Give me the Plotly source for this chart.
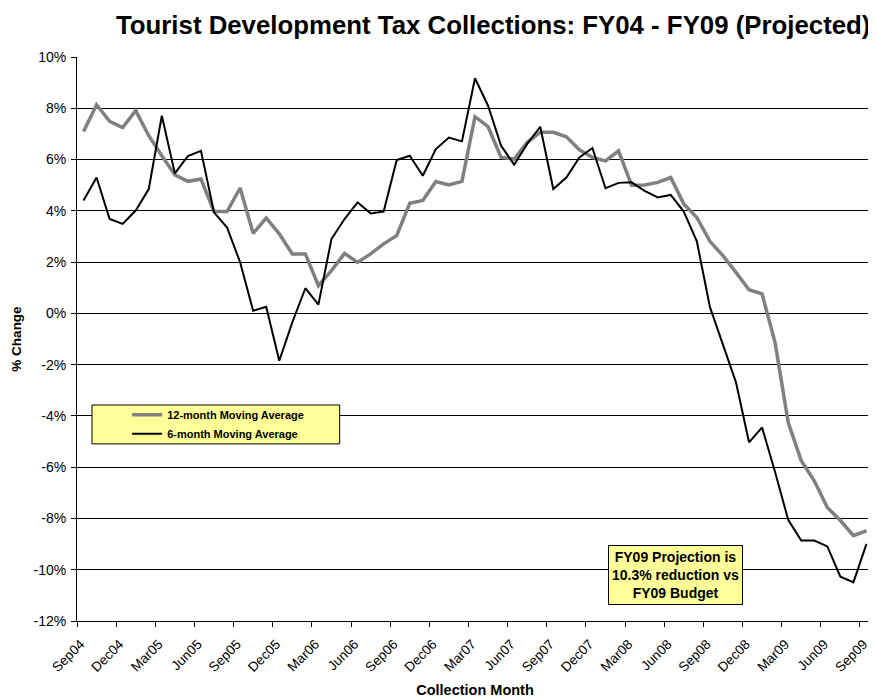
import plotly.graph_objects as go

# ---- data ----
month_index = list(range(61))  # Sep04 ... Sep09, monthly
tick_labels = ["Sep04", "Dec04", "Mar05", "Jun05", "Sep05", "Dec05", "Mar06", "Jun06",
               "Sep06", "Dec06", "Mar07", "Jun07", "Sep07", "Dec07", "Mar08", "Jun08",
               "Sep08", "Dec08", "Mar09", "Jun09", "Sep09"]
tick_positions = list(range(0, 61, 3))

ma12 = [7.09, 8.14, 7.49, 7.25, 7.91, 6.93, 6.15, 5.40, 5.15, 5.24,
        3.97, 3.97, 4.89, 3.12, 3.72, 3.10, 2.32, 2.32, 1.08, 1.67,
        2.34, 1.99, 2.32, 2.71, 3.03, 4.29, 4.40, 5.14, 5.01, 5.15,
        7.67, 7.28, 6.08, 6.02, 6.67, 7.06, 7.06, 6.89, 6.38, 6.08,
        5.95, 6.34, 5.00, 5.01, 5.11, 5.30, 4.27, 3.74, 2.81, 2.25,
        1.60, 0.92, 0.76, -1.15, -4.25, -5.75, -6.53, -7.57, -8.08, -8.67,
        -8.48]
ma6 = [4.40, 5.30, 3.68, 3.49, 4.01, 4.85, 7.71, 5.46, 6.14, 6.34,
       3.94, 3.35, 1.99, 0.10, 0.26, -1.85, -0.35, 0.98, 0.34, 2.90,
       3.68, 4.33, 3.90, 3.97, 5.98, 6.15, 5.37, 6.41, 6.86, 6.71,
       9.17, 8.10, 6.54, 5.80, 6.61, 7.28, 4.85, 5.30, 6.08, 6.45,
       4.88, 5.09, 5.11, 4.78, 4.52, 4.62, 3.97, 2.81, 0.25, -1.19,
       -2.69, -5.03, -4.45, -6.20, -8.05, -8.86, -8.86, -9.09, -10.27, -10.49,
       -8.99]

y_ticks = list(range(-12, 11, 2))
y_labels = [f"{v}%" for v in y_ticks]

FONT = "Liberation Sans, Arial, sans-serif"

fig = go.Figure()
fig.add_trace(go.Scatter(x=month_index, y=ma12, mode="lines",
                         name="<b>12-month Moving Average</b>",
                         line=dict(color="#808080", width=3.5)))
fig.add_trace(go.Scatter(x=month_index, y=ma6, mode="lines",
                         name="<b>6-month Moving Average</b>",
                         line=dict(color="#000000", width=2)))

# legend box
fig.add_shape(type="rect", xref="paper", yref="paper",
              x0=0.0188, x1=0.330, y0=0.314, y1=0.383,
              fillcolor="#FFFF99", line=dict(color="black", width=1), layer="above")

fig.add_annotation(xref="paper", yref="paper", x=0.752, y=0.0816,
                   text="<b>FY09 Projection is<br>10.3% reduction vs<br>FY09 Budget</b>",
                   showarrow=False, font=dict(family=FONT, size=14, color="black"),
                   bgcolor="#FFFF99", bordercolor="black", borderwidth=1, borderpad=3,
                   xanchor="center", yanchor="middle")

# the page adds an 8px body margin, so the figure is 8px smaller than the window
fig.update_layout(
    width=868, height=690,
    margin=dict(l=69, r=3, t=49, b=77),
    paper_bgcolor="white", plot_bgcolor="white",
    font=dict(family=FONT, color="black", size=13),
    title=dict(text="<b>Tourist Development Tax Collections: FY04 - FY09 (Projected)</b>",
               x=0.559, xanchor="center", y=0.975, yanchor="middle",
               font=dict(family=FONT, size=25.8, color="black")),
    legend=dict(x=0.063, y=0.349, xanchor="left", yanchor="middle",
                bgcolor="rgba(0,0,0,0)", borderwidth=0,
                font=dict(family=FONT, size=11, color="black"),
                itemwidth=30, tracegroupgap=0),
    showlegend=True,
)

fig.update_xaxes(
    range=[-0.5, 60.5], tickmode="array", tickvals=tick_positions, ticktext=tick_labels,
    tickangle=-45, ticks="", showgrid=False, zeroline=False, automargin=False,
    showline=True, linecolor="black", linewidth=1,
    tickfont=dict(family=FONT, size=13.5),
    ticklabelstandoff=9, ticklabelshift=-3,
    minor=dict(tick0=-0.5, dtick=3, ticks="outside", ticklen=5, tickcolor="black", showgrid=False),
    title=dict(text="<b>Collection Month</b>", font=dict(family=FONT, size=14.5), standoff=12),
)
fig.update_yaxes(
    range=[-12, 10], tickmode="array", tickvals=y_ticks, ticktext=y_labels,
    ticks="outside", ticklen=5, tickcolor="black", automargin=False,
    ticklabelstandoff=2,
    showgrid=True, gridcolor="#000000", gridwidth=1, zeroline=False,
    showline=True, linecolor="black", linewidth=1,
    tickfont=dict(family=FONT, size=14),
    title=dict(text="<b>% Change</b>", font=dict(family=FONT, size=13.5), standoff=8),
)

fig.write_html("out.html")
